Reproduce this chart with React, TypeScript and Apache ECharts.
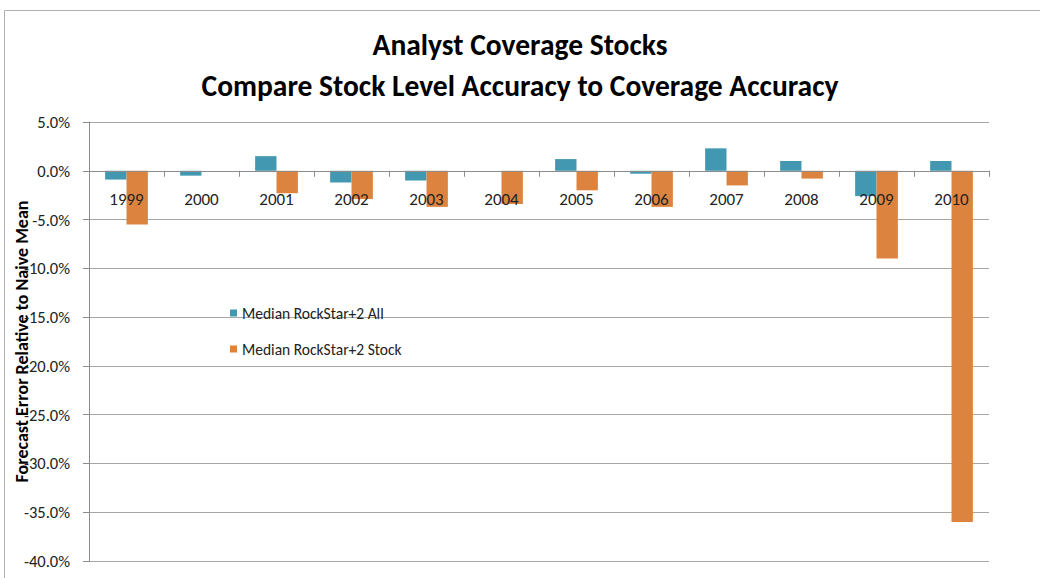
import React, { useEffect, useRef } from "react";
import * as echarts from "echarts";

const years = ["1999", "2000", "2001", "2002", "2003", "2004", "2005", "2006", "2007", "2008", "2009", "2010"];
const allValues = [-0.9, -0.5, 1.5, -1.2, -1.0, 0, 1.2, -0.3, 2.3, 1.0, -2.6, 1.0];
const stockValues = [-5.5, 0, -2.3, -2.9, -3.7, -3.4, -2.0, -3.7, -1.5, -0.8, -9.0, -36.0];
const seriesNames = ["Median RockStar+2 All", "Median RockStar+2 Stock"];
const titleLines = ["Analyst Coverage Stocks", "Compare Stock Level Accuracy to Coverage Accuracy"];
const yAxisName = "Forecast Error Relative to Naive Mean";
const yMin = -40;
const yMax = 5;
const yStep = 5;

const font = "Carlito, Calibri, 'Open Sans', 'DejaVu Sans', sans-serif";

const W = 1040;
const H = 578;
const gridTop = 122;
const gridBottom = 17;

export default function App() {
  const ref = useRef<HTMLDivElement>(null);
  useEffect(() => {
    if (!ref.current) return;
    const chart = echarts.init(ref.current, undefined, { renderer: "svg" });
    const plotH = H - gridTop - gridBottom;
    const zeroOffset = -plotH * (0 - yMin) / (yMax - yMin);
    const titleStyle = { fontFamily: font, fontSize: 29.5, fontWeight: "bold", color: "#000" };
    chart.setOption({
      animation: false,
      backgroundColor: "#ffffff",
      title: [
        { text: titleLines[0], left: "center", top: 25, textStyle: titleStyle },
        { text: titleLines[1], left: "center", top: 66, textStyle: titleStyle },
      ],
      graphic: [
        {
          type: "rect",
          shape: { x: 4.5, y: 10.5, width: 1060, height: 600 },
          style: { fill: "none", stroke: "#b0b0b0", lineWidth: 1 },
          silent: true,
        },
      ],
      legend: {
        orient: "vertical",
        left: 225,
        top: 300,
        itemGap: 20,
        itemWidth: 7,
        itemHeight: 7,
        icon: "rect",
        textStyle: { fontFamily: font, fontSize: 15.5, color: "#222" },
        data: seriesNames,
      },
      grid: {
        left: 89,
        right: 51,
        top: gridTop,
        bottom: gridBottom,
        containLabel: false,
        outerBoundsMode: "none",
      },
      xAxis: {
        type: "category",
        data: years,
        position: "bottom",
        offset: zeroOffset,
        z: 10,
        axisLine: { onZero: false, lineStyle: { color: "#8c8c8c", width: 1 } },
        axisTick: { show: true, length: 6, inside: false, lineStyle: { color: "#8c8c8c" } },
        axisLabel: { margin: 20, fontFamily: font, fontSize: 17, color: "#222" },
        splitLine: { show: false },
      },
      yAxis: {
        type: "value",
        min: yMin,
        max: yMax,
        interval: yStep,
        name: yAxisName,
        nameLocation: "middle",
        nameGap: 58,
        nameMoveOverlap: false,
        nameTextStyle: { fontFamily: font, fontSize: 18, fontWeight: "bold", color: "#000" },
        axisLine: { show: true, lineStyle: { color: "#8c8c8c" } },
        axisTick: { show: true, length: 6, lineStyle: { color: "#8c8c8c" } },
        axisLabel: {
          fontFamily: font,
          fontSize: 16.5,
          color: "#222",
          margin: 19,
          formatter: (v: number) => v.toFixed(1) + "%",
        },
        splitLine: { show: true, lineStyle: { color: "#a6a6a6", width: 1 } },
      },
      series: [
        {
          name: seriesNames[0],
          type: "bar",
          data: allValues,
          itemStyle: { color: "#4298B0" },
          barGap: "0%",
          barCategoryGap: "43%",
        },
        {
          name: seriesNames[1],
          type: "bar",
          data: stockValues,
          itemStyle: { color: "#DC843F" },
          barGap: "0%",
          barCategoryGap: "43%",
        },
      ],
    });
    return () => chart.dispose();
  }, []);
  return <div ref={ref} style={{ position: "absolute", left: 0, top: 0, width: W, height: H }} />;
}
